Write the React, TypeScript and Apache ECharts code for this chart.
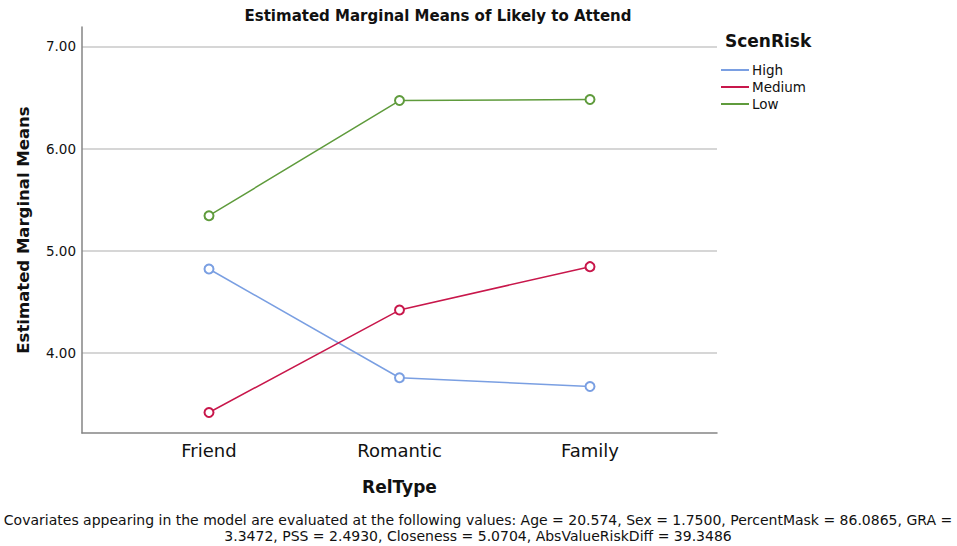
import React, { useEffect, useRef } from "react";
import * as echarts from "echarts";

const categories = ["Friend", "Romantic", "Family"];
const seriesNames = ["High", "Medium", "Low"];
const highValues = [4.82, 3.755, 3.67];
const mediumValues = [3.415, 4.418, 4.843];
const lowValues = [5.342, 6.47, 6.48];
const yTicks = [4, 5, 6, 7];
const colors = ["#7a9fe2", "#c8174b", "#5f9b3c"];
const footnote =
  "Covariates appearing in the model are evaluated at the following values: Age = 20.574, Sex = 1.7500, PercentMask = 86.0865, GRA =\n3.3472, PSS = 2.4930, Closeness = 5.0704, AbsValueRiskDiff = 39.3486";

const FONT = "DejaVu Sans";

export default function App() {
  const ref = useRef<HTMLDivElement>(null);
  useEffect(() => {
    if (!ref.current) return;
    const chart = echarts.init(ref.current, undefined, { renderer: "svg" });
    const values = [highValues, mediumValues, lowValues];
    chart.setOption({
      animation: false,
      backgroundColor: "#ffffff",
      textStyle: { fontFamily: FONT },
      title: {
        text: "Estimated Marginal Means of Likely to Attend",
        left: 433,
        textAlign: "center",
        top: 3,
        textStyle: { fontFamily: FONT, fontSize: 15, fontWeight: "bold", color: "#111" },
      },
      legend: {
        orient: "vertical",
        left: 716,
        top: 58,
        icon: "rect",
        itemWidth: 28,
        itemHeight: 2,
        itemGap: 3,
        data: seriesNames,
        textStyle: { fontFamily: FONT, fontSize: 13.5, color: "#111", padding: [0, 0, 0, -2] },
      },
      grid: { left: 82, right: 240, top: 27, bottom: 113, containLabel: false },
      xAxis: {
        type: "value",
        min: -2 / 3,
        max: 8 / 3,
        name: "RelType",
        nameLocation: "middle",
        nameGap: 45,
        nameTextStyle: { fontFamily: FONT, fontSize: 17, fontWeight: "bold", color: "#111" },
        axisLine: { show: true, onZero: false, lineStyle: { color: "#858585", width: 1.5 } },
        axisTick: { show: false, customValues: [0, 1, 2] },
        splitLine: { show: false },
        axisLabel: {
          customValues: [0, 1, 2],
          formatter: (v: number) => categories[Math.round(v)] ?? "",
          fontFamily: FONT,
          fontSize: 18,
          color: "#111",
          margin: 8,
        },
      },
      yAxis: {
        type: "value",
        min: 3.214,
        max: 7.19,
        name: "Estimated Marginal Means",
        nameLocation: "middle",
        nameRotate: 90,
        nameGap: 50,
        nameTextStyle: { fontFamily: FONT, fontSize: 16.5, fontWeight: "bold", color: "#111" },
        axisLine: { show: true, onZero: false, lineStyle: { color: "#858585", width: 1.5 } },
        axisTick: { show: false, customValues: yTicks },
        splitLine: { show: true, lineStyle: { color: "#c8c8c8", width: 1.5 } },
        axisLabel: {
          customValues: yTicks,
          formatter: (v: number) => v.toFixed(2),
          fontFamily: FONT,
          fontSize: 13.5,
          color: "#111",
          margin: 6,
        },
      },
      series: seriesNames.map((name, i) => ({
        name,
        type: "line",
        data: values[i].map((v, j) => [j, v]),
        symbol: "emptyCircle",
        symbolSize: 9,
        color: colors[i],
        lineStyle: { color: colors[i], width: 1.5 },
        itemStyle: { color: colors[i], borderWidth: 1.5 },
        emphasis: { disabled: true },
      })),
      graphic: [
        {
          type: "text",
          left: 725,
          top: 32,
          style: { text: "ScenRisk", fontFamily: FONT, fontSize: 17, fontWeight: "bold", fill: "#111" },
        },
        {
          type: "text",
          x: 478,
          y: 512,
          style: {
            text: footnote,
            align: "center",
            fontFamily: FONT,
            fontSize: 14,
            lineHeight: 16,
            fill: "#111",
          },
        },
      ],
    });
    return () => chart.dispose();
  }, []);
  return (
    <div
      ref={ref}
      style={{ position: "fixed", left: 0, top: 0, width: 957, height: 546, background: "#fff" }}
    />
  );
}
